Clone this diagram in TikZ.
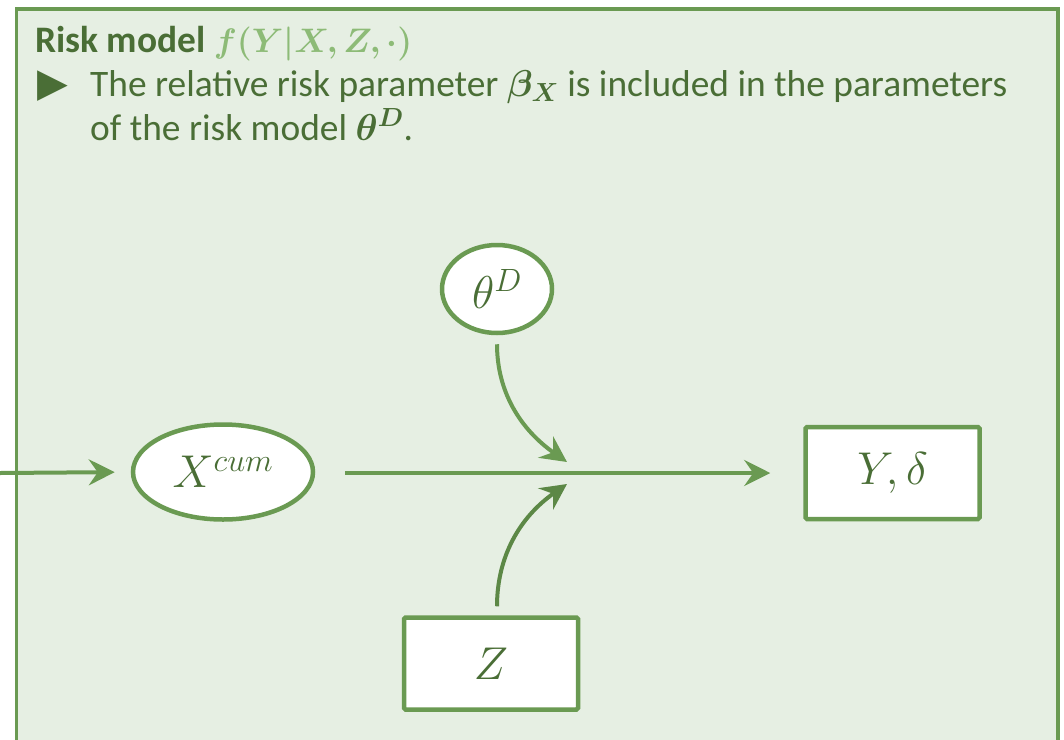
\RequirePackage{fix-cm}
\documentclass[tikz,border=0pt]{standalone}
\usepackage{amsmath}
\usepackage{bm}
\usepackage{fontspec}
\setmainfont{Carlito}
\newfontfamily\symfont{DejaVu Sans}
\usetikzlibrary{arrows.meta,shapes.geometric}
\definecolor{panelfill}{HTML}{E6EFE3}
\definecolor{panelline}{HTML}{6A9A52}
\definecolor{textgreen}{HTML}{4A6E36}
\definecolor{lightgreen}{HTML}{8DBB77}
\definecolor{darkarrow}{HTML}{5C8846}
\tikzset{
  conn/.style={line width=4pt, draw=panelline,
    -{Stealth[length=26pt, width=26pt, inset=9pt]}},
  varbox/.style={draw=panelline, line width=4.5pt, fill=white, rounded corners=1.5pt,
    minimum width=174pt, minimum height=92pt, inner sep=0pt,
    text=textgreen, font=\fontsize{46}{50}\selectfont},
  varoval/.style={draw=panelline, line width=4.5pt, fill=white, ellipse,
    inner sep=0pt, text=textgreen, font=\fontsize{46}{50}\selectfont},
  bodytext/.style={anchor=base west, inner sep=0pt, text=textgreen,
    font=\fontsize{37.4}{43}\selectfont}
}
\begin{document}
\begin{tikzpicture}[x=1pt,y=1pt]
\useasboundingbox (0,0) rectangle (1064,-739);
% green panel
\draw[fill=panelfill, draw=panelline, line width=3.5pt] (16.5,-9) rectangle (1058,-780);

% heading and bullet text
\node[bodytext] (title) at (35,-52)
  {\textbf{Risk model} \textcolor{lightgreen}{\fontsize{34}{38}\selectfont$\bm{f(Y|X,Z,\cdot)}$}};
\node[anchor=base west, inner sep=0pt, text=textgreen, font=\fontsize{40}{40}\symfont] (bullet) at (37,-96) {▶};
\node[bodytext] (line1) at (90,-96)
  {The relative risk parameter $\bm{\beta_X}$ is included in the parameters};
\node[bodytext] (line2) at (90,-140)
  {of the risk model $\bm{\theta^D}$.};

% variables
\node[varoval, minimum width=180pt, minimum height=95pt] (xc) at (223,-472) {$X^{cum}$};
\node[varoval, minimum width=110pt, minimum height=88pt] (th) at (497,-289) {$\theta^D$};
\node[varbox] (yd) at (892.5,-473) {$Y,\delta$};
\node[varbox] (z) at (491,-663.5) {$Z$};

% arrow entry points
\coordinate (in0) at (0,-473);
\coordinate (tipA) at (567,-462);
\coordinate (tipB) at (567,-484);

% connectors
\draw[conn, shorten >=16pt] (in0) -- (xc.west);
\draw[conn, shorten <=30pt, shorten >=33pt] (xc.east |- yd.west) -- (yd.west);
\draw[conn, shorten <=9pt] (th.south) to[out=-90, in=145] (tipA);
\draw[conn, draw=darkarrow, shorten <=9pt] (z.north -| th.south) to[out=90, in=-145] (tipB);
\end{tikzpicture}
\end{document}
